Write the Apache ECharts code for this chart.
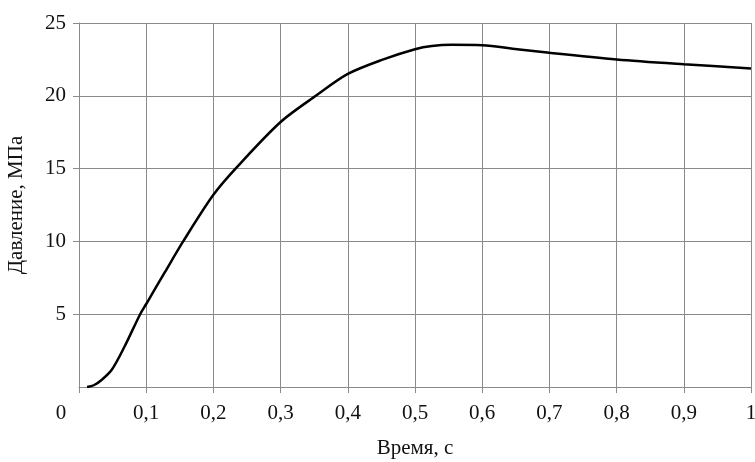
<!DOCTYPE html>
<html lang="ru">
<head>
    <meta charset="UTF-8">
    <title>Давление</title>
    <script src="https://cdn.jsdelivr.net/npm/echarts@6/dist/echarts.min.js"></script>
    <style>
        html, body { margin: 0; padding: 0; background: #fff; }
        #chart { width: 755px; height: 462px; }
    </style>
</head>
<body>
    <div id="chart"></div>
    <script>
        // время, с
        const timeS = [0.012, 0.022, 0.034, 0.049, 0.068, 0.091, 0.1, 0.128, 0.155, 0.2, 0.235, 0.3,
            0.354, 0.4, 0.453, 0.5, 0.525, 0.555, 0.6, 0.652, 0.7, 0.8, 0.9, 1.0];
        // давление, МПа
        const pressureMPa = [0, 0.12, 0.5, 1.2, 2.8, 5.0, 5.7, 7.9, 10.0, 13.2, 15.1, 18.2,
            20.05, 21.5, 22.5, 23.2, 23.42, 23.5, 23.48, 23.2, 22.95, 22.5, 22.17, 21.88];

        const font = '"Liberation Serif", "DejaVu Serif", serif';
        const gray = '#8a8a8a';

        const chart = echarts.init(document.getElementById('chart'));
        chart.setOption({
            animation: false,
            grid: { left: 79, right: 4, top: 23, bottom: 75, outerBoundsMode: 'none' },
            xAxis: {
                type: 'value',
                min: 0, max: 1, interval: 0.1,
                name: 'Время, с',
                nameLocation: 'middle',
                nameGap: 51,
                nameTextStyle: { fontFamily: font, fontSize: 21, color: '#111' },
                axisLine: { lineStyle: { color: gray } },
                axisTick: { show: true, length: 6, lineStyle: { color: gray } },
                splitLine: { show: true, lineStyle: { color: gray, width: 1 } },
                axisLabel: {
                    fontFamily: font, fontSize: 21, color: '#111', margin: 16,
                    showMaxLabel: true, showMinLabel: true,
                    formatter: function (v) {
                        if (v === 0) return '{zero|0}';
                        return String(Math.round(v * 10) / 10).replace('.', ',');
                    },
                    rich: {
                        zero: { fontFamily: font, fontSize: 21, color: '#111', padding: [0, 36, 0, 0] }
                    }
                }
            },
            yAxis: {
                type: 'value',
                min: 0, max: 25, interval: 5,
                name: 'Давление, МПа',
                nameLocation: 'middle',
                nameGap: 52,
                nameTextStyle: { fontFamily: font, fontSize: 21, color: '#111' },
                axisLine: { show: true, lineStyle: { color: gray } },
                axisTick: { show: true, length: 6, lineStyle: { color: gray } },
                splitLine: { show: true, lineStyle: { color: gray, width: 1 } },
                axisLabel: {
                    fontFamily: font, fontSize: 21, color: '#111', margin: 13,
                    showMinLabel: false
                }
            },
            series: [{
                type: 'line',
                data: timeS.map((t, i) => [t, pressureMPa[i]]),
                smooth: 0.3,
                showSymbol: false,
                lineStyle: { color: '#000', width: 2.5 }
            }]
        });
    </script>
</body>
</html>
